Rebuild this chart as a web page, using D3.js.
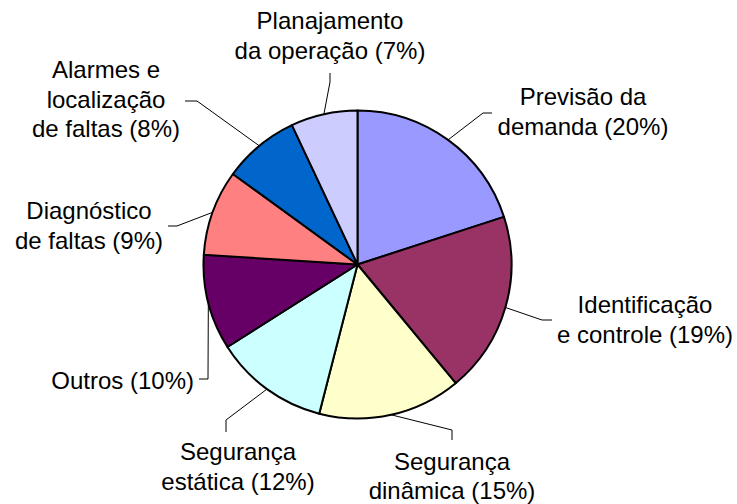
<!DOCTYPE html>
<html>
<head>
<meta charset="utf-8">
<script src="https://cdn.jsdelivr.net/npm/d3@7"></script>
<style>
  html, body { margin: 0; padding: 0; background: #fff; }
  svg { display: block; }
  text { font-family: "Liberation Sans", Arial, sans-serif; font-size: 24px; fill: #000; }
</style>
</head>
<body>
<svg id="chart" width="737" height="504"></svg>
<script>
// Data (clockwise from 12 o'clock)
const categories = [
  ["Previsão da", "demanda (20%)"],
  ["Identificação", "e controle (19%)"],
  ["Segurança", "dinâmica (15%)"],
  ["Segurança", "estática (12%)"],
  ["Outros (10%)"],
  ["Diagnóstico", "de faltas (9%)"],
  ["Alarmes e", "localização", "de faltas (8%)"],
  ["Planajamento", "da operação (7%)"]
];
const values = [20, 19, 15, 12, 10, 9, 8, 7];
const colors = ["#9999FF", "#993366", "#FFFFCC", "#CCFFFF", "#660066", "#FF8080", "#0066CC", "#CCCCFF"];

// Layout (label placement, leader elbows) — presentation only
const cx = 357.5, cy = 264.5, R = 154;
const lineH = 29.5;
const labelLayout = [
  { x: 583, y: 105, anchor: "middle", elbow: [483, 113], end: [492, 113] },
  { x: 645, y: 313, anchor: "middle", elbow: [542, 320], end: [552, 320] },
  { x: 452, y: 470, anchor: "middle", elbow: [452, 430], end: [452, 440], lh: 29 },
  { x: 238, y: 460, anchor: "middle", elbow: [226, 420], end: [226, 432], lh: 30 },
  { x: 194, y: 389, anchor: "end",    elbow: [208, 379], end: [199, 379] },
  { x: 89,  y: 219, anchor: "middle", elbow: [177, 226], end: [168, 226] },
  { x: 106, y: 78,  anchor: "middle", elbow: [197, 101], end: [185, 101] },
  { x: 330, y: 29,  anchor: "middle", elbow: [330, 82],  end: [330, 73] }
];

const data = values.map((v, i) => ({ value: v, lines: categories[i], color: colors[i], layout: labelLayout[i] }));

const svg = d3.select("#chart");
const g = svg.append("g").attr("transform", `translate(${cx},${cy})`);

const pie = d3.pie().value(d => d.value).sort(null).startAngle(0).endAngle(2 * Math.PI);
const arc = d3.arc().innerRadius(0).outerRadius(R);
const arcs = pie(data);

g.selectAll("path.slice")
  .data(arcs)
  .join("path")
  .attr("class", "slice")
  .attr("d", arc)
  .attr("fill", d => d.data.color)
  .attr("stroke", "#000")
  .attr("stroke-width", 2)
  .attr("stroke-linejoin", "round");

// Leader lines: start at the outer edge on the slice's mid angle
const edge = d3.arc().innerRadius(R).outerRadius(R);
svg.selectAll("polyline.leader")
  .data(arcs)
  .join("polyline")
  .attr("class", "leader")
  .attr("fill", "none")
  .attr("stroke", "#000")
  .attr("stroke-width", 1)
  .attr("points", d => {
    const [sx, sy] = edge.centroid(d);
    const L = d.data.layout;
    return [[sx + cx, sy + cy], L.elbow, L.end].map(p => p.join(",")).join(" ");
  });

// Labels
const labels = svg.selectAll("text.label")
  .data(arcs)
  .join("text")
  .attr("class", "label")
  .attr("text-anchor", d => d.data.layout.anchor)
  .attr("x", d => d.data.layout.x)
  .attr("y", d => d.data.layout.y);

labels.selectAll("tspan")
  .data(d => d.data.lines.map(t => ({ t, x: d.data.layout.x, lh: d.data.layout.lh || lineH })))
  .join("tspan")
  .attr("x", d => d.x)
  .attr("dy", (d, i) => i === 0 ? 0 : d.lh)
  .text(d => d.t);
</script>
</body>
</html>
